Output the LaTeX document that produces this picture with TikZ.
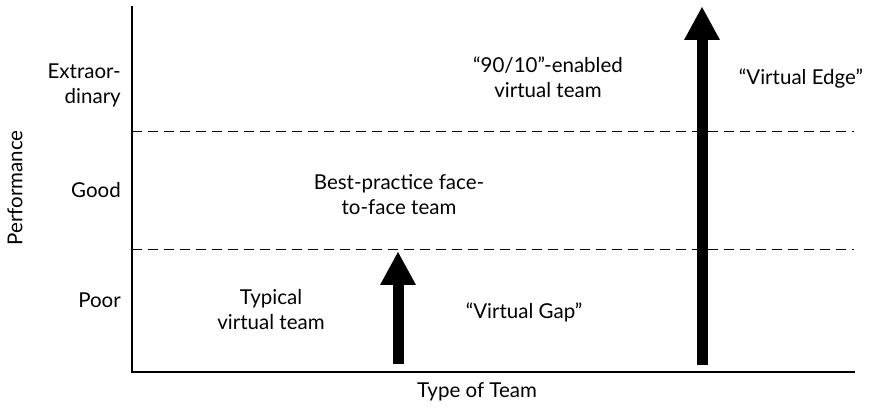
\documentclass[tikz,border=0pt]{standalone}
\usepackage{fontspec}
\setmainfont{Lato}
\usetikzlibrary{arrows.meta}
\tikzset{
  lbl/.style={font=\fontsize{20.5}{25}\selectfont, inner sep=0pt, align=center},
  axisline/.style={line width=1.5pt, line cap=rect},
  divider/.style={line width=1pt, dash pattern=on 10pt off 6pt},
  fatarrow/.style={line width=11pt, -{Triangle[width=36pt,length=33pt,line width=0pt]}}
}
\begin{document}
\begin{tikzpicture}[x=1pt,y=-1pt]
\useasboundingbox (0,0) rectangle (877,411);
\coordinate (o) at (132,372);
\coordinate (ytop) at (132,7);
\coordinate (xend) at (854,372);
\coordinate (d1a) at (132,132);
\coordinate (d1b) at (854,132);
\coordinate (d2a) at (132,250);
\coordinate (d2b) at (854,250);
\draw[axisline] (ytop) -- (o) -- (xend);
\draw[divider] (d1a) -- (d1b);
\draw[divider] (d2a) -- (d2b);
\coordinate (g0) at (398,364);
\coordinate (g1) at (398,252);
\coordinate (e0) at (702,365);
\coordinate (e1) at (702,7);
\draw[fatarrow] (g0) -- (g1);
\draw[fatarrow] (e0) -- (e1);
\node[lbl, anchor=east, align=right] (extra) at (121,85) {Extraor-\\dinary};
\node[lbl, anchor=east] (good) at (121,190) {Good};
\node[lbl, anchor=east] (poor) at (121,300) {Poor};
\node[lbl, rotate=90] (perf) at (15,188) {Performance};
\node[lbl] (typ) at (271,310) {Typical\\virtual team};
\node[lbl] (best) at (399,195) {Best-practice face-\\to-face team};
\node[lbl] (ninety) at (548,77) {“90/10”-enabled\\virtual team};
\node[lbl] (edge) at (801,79) {“Virtual Edge”};
\node[lbl] (gap) at (524,312) {“Virtual Gap”};
\node[lbl] (type) at (477,392) {Type of Team};
\end{tikzpicture}
\end{document}
